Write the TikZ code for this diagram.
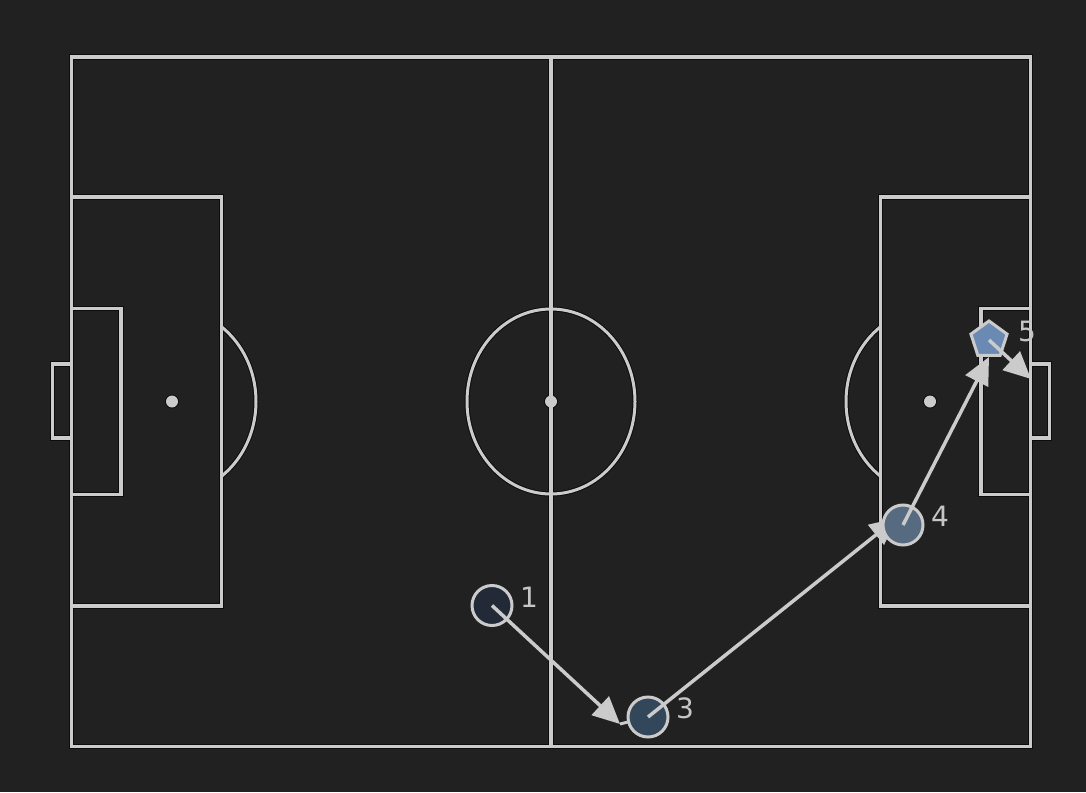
\documentclass[tikz,border=0pt]{standalone}
\usepackage{fontspec}
\setmainfont{DejaVu Sans}
\usetikzlibrary{arrows.meta,shapes.geometric}
\definecolor{bg}{HTML}{212121}
\definecolor{pl}{HTML}{CBCBCB}
\definecolor{edge}{HTML}{0C0C0C}
\definecolor{lblc}{HTML}{C6C6C6}
\definecolor{cA}{HTML}{212A36}
\definecolor{cB}{HTML}{33475A}
\definecolor{cC}{HTML}{566A80}
\definecolor{cD}{HTML}{6A8AB4}
\newcommand\mypitch[3]{%
  \draw[line width=#1] (71.5,57) rectangle (1030.5,746.5);
  \draw[line width=#1] (551,57) -- (551,746.5);
  \draw[line width=#1] (71.5,197) rectangle (221.5,606);
  \draw[line width=#1] (71.5,308.5) rectangle (121,494.5);
  \draw[line width=#1] (71.5,364) -- (52.5,364) -- (52.5,438) -- (71.5,438);
  \draw[line width=#1] (1030.5,197) rectangle (880.5,606);
  \draw[line width=#1] (1030.5,308.5) rectangle (981,494.5);
  \draw[line width=#1] (1030.5,364) -- (1049.5,364) -- (1049.5,438) -- (1030.5,438);
  \draw[line width=#2] (551,401.5) ellipse [x radius=84pt, y radius=92.5pt];
  \begin{scope}
    \clip (221.5,0) rectangle (400,792);
    \draw[line width=#2] (172,401.5) ellipse [x radius=84pt, y radius=92.5pt];
  \end{scope}
  \begin{scope}
    \clip (700,0) rectangle (880.5,792);
    \draw[line width=#2] (930,401.5) ellipse [x radius=84pt, y radius=92.5pt];
  \end{scope}
  \fill (551,401.5) circle (#3);
  \fill (172,401.5) circle (#3);
  \fill (930,401.5) circle (#3);
}
\begin{document}
\begin{tikzpicture}[x=1pt,y=-1pt,
  mk/.style={circle, draw=pl, line width=3pt, minimum size=40pt, inner sep=0pt},
  pent/.style={regular polygon, regular polygon sides=5, draw=pl, line width=3pt, minimum size=38pt, inner sep=0pt},
  pass/.style={draw=pl, line width=3.5pt, -{Triangle[length=27pt,width=25pt]}},
  stub/.style={draw=pl, line width=3pt},
  lbl/.style={text=lblc, font=\fontsize{28}{28}\selectfont, inner sep=0pt}]
  \fill[bg] (0,0) rectangle (1086,792);
  \useasboundingbox (0,0) rectangle (1086,792);
  % pitch: dark edge pass, then light lines
  \begin{scope}[color=edge]
    \mypitch{5.5pt}{5pt}{7pt}
  \end{scope}
  \begin{scope}[color=pl]
    \mypitch{3.5pt}{3pt}{6pt}
  \end{scope}
  % events
  \coordinate (p1) at (492,605.5);
  \coordinate (p3) at (648,717);
  \coordinate (p4) at (903,525);
  \coordinate (p5) at (989,340);
  \coordinate (e13) at (620,724);
  \coordinate (e34) at (897,518);
  \coordinate (e45) at (989,357);
  \coordinate (e5) at (1031,379);
  \node[mk, fill=cA] (m1) at (p1) {};
  \draw[pass] (m1.center) -- (e13);
  \draw[stub] (e13) -- (p3);
  \node[mk, fill=cB] (m3) at (p3) {};
  \draw[pass] (m3.center) -- (e34);
  \node[mk, fill=cC] (m4) at (p4) {};
  \draw[pass] (m4.center) -- (e45);
  \node[pent, fill=cD] (m5) at (p5) {};
  \draw[pass] (m5.center) -- (e5);
  % labels
  \node[lbl] (l1) at (529,597) {1};
  \node[lbl] (l3) at (685,708) {3};
  \node[lbl] (l4) at (940,516) {4};
  \node[lbl] (l5) at (1027,331) {5};
\end{tikzpicture}
\end{document}
